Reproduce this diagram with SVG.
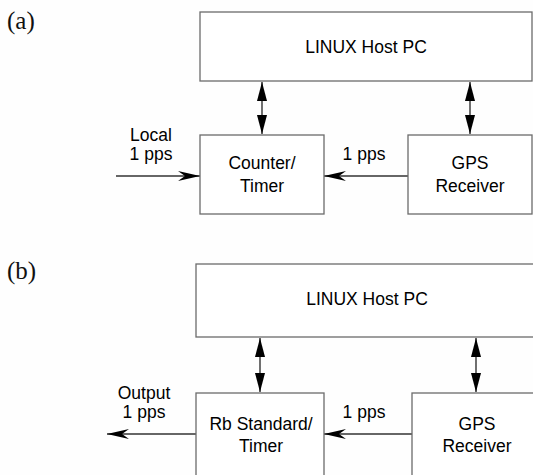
<svg xmlns="http://www.w3.org/2000/svg" width="533" height="475" viewBox="0 0 533 475">
<style>
.box{fill:#ffffff;stroke:#6b6b6b;stroke-width:1.3}
.t{font-family:"Liberation Sans",Arial,sans-serif;font-size:17.5px;fill:#000;text-anchor:middle}
.lbl{font-family:"Liberation Serif","Times New Roman",serif;font-size:25px;fill:#111}
.c{stroke:#333;stroke-width:1.4;fill:none}
.bi{marker-start:url(#tri);marker-end:url(#tri)}
.one{marker-end:url(#barb)}
</style>
<defs>
<marker id="tri" markerUnits="userSpaceOnUse" markerWidth="20" markerHeight="11" refX="19" refY="5" orient="auto-start-reverse">
<path d="M0,0 L19,5 L0,10 z" fill="#000"/>
</marker>
<marker id="barb" markerUnits="userSpaceOnUse" markerWidth="23" markerHeight="11" refX="22" refY="5" orient="auto">
<path d="M0,0 L22,5 L0,10 L7,5 z" fill="#000"/>
</marker>
</defs>
<rect width="533" height="475" fill="#fefefe"/>
<text class="lbl" x="7" y="29">(a)</text>
<text class="lbl" x="7" y="279">(b)</text>

<g id="connectors">
<line class="c bi" x1="262" y1="82" x2="262" y2="134"/>
<line class="c bi" x1="470" y1="82" x2="470" y2="134"/>
<line class="c one" x1="116" y1="176" x2="200" y2="176"/>
<line class="c one" x1="408" y1="176" x2="324" y2="176"/>
<line class="c bi" x1="260" y1="338" x2="260" y2="392"/>
<line class="c bi" x1="476" y1="338" x2="476" y2="392"/>
<line class="c one" x1="196" y1="434" x2="107" y2="434"/>
<line class="c one" x1="412" y1="434" x2="324" y2="434"/>
<text class="t" x="151" y="141">Local</text>
<text class="t" x="151" y="160">1 pps</text>
<text class="t" x="364" y="160">1 pps</text>
<text class="t" x="144" y="399">Output</text>
<text class="t" x="144" y="418">1 pps</text>
<text class="t" x="364" y="418">1 pps</text>
</g>

<g id="host-a">
<rect class="box" x="200" y="12" width="332" height="69"/>
<text class="t" x="366" y="53">LINUX Host PC</text>
</g>
<g id="counter-timer">
<rect class="box" x="200" y="135" width="124" height="79"/>
<text class="t" x="262" y="169">Counter/</text>
<text class="t" x="262" y="192">Timer</text>
</g>
<g id="gps-a">
<rect class="box" x="408" y="135" width="124" height="79"/>
<text class="t" x="470" y="169">GPS</text>
<text class="t" x="470" y="192">Receiver</text>
</g>

<g id="host-b">
<rect class="box" x="196" y="264" width="345" height="73"/>
<text class="t" x="367" y="305">LINUX Host PC</text>
</g>
<g id="rb-timer">
<rect class="box" x="196" y="393" width="128" height="90"/>
<text class="t" x="261" y="430">Rb Standard/</text>
<text class="t" x="261" y="452">Timer</text>
</g>
<g id="gps-b">
<rect class="box" x="412" y="393" width="130" height="90"/>
<text class="t" x="477" y="430">GPS</text>
<text class="t" x="477" y="452">Receiver</text>
</g>
</svg>
